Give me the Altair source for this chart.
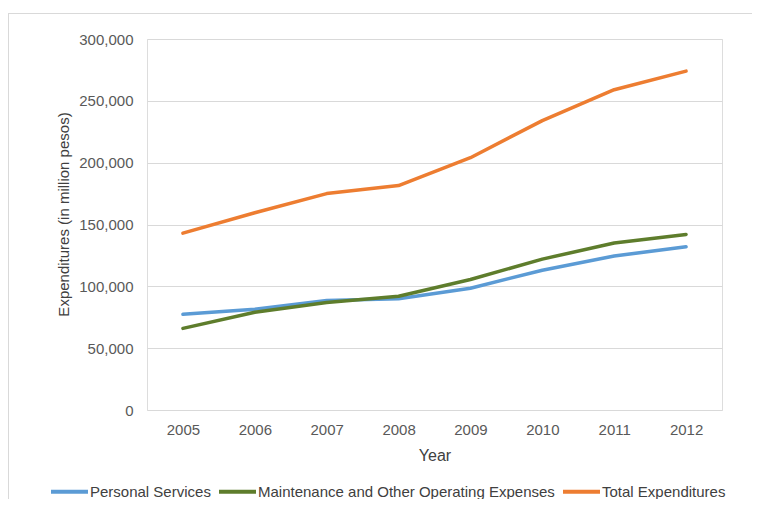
import altair as alt
import pandas as pd

years = ["2005", "2006", "2007", "2008", "2009", "2010", "2011", "2012"]
series_names = ["Personal Services", "Maintenance and Other Operating Expenses", "Total Expenditures"]
personal = [77400, 81500, 88500, 90000, 98500, 113000, 124500, 132000]
maintenance = [66000, 79000, 87000, 92000, 105500, 122000, 135000, 142000]
total = [143000, 159500, 175000, 181500, 204000, 234000, 259000, 274000]
colors = ["#5B9BD5", "#5E7D2C", "#ED7D31"]

rows = []
for name, vals in zip(series_names, [personal, maintenance, total]):
    for y, v in zip(years, vals):
        rows.append({"Year": y, "Series": name, "Value": v})
df = pd.DataFrame(rows)

W, H = 575, 371

lines = alt.Chart(df).mark_line(strokeWidth=3.5, strokeCap="round", strokeJoin="round").encode(
    x=alt.X("Year:O", sort=years,
            scale=alt.Scale(type="point", padding=0.5),
            axis=alt.Axis(title="Year", labelAngle=0, ticks=False, domain=False,
                          labelPadding=12, titlePadding=10,
                          labelFontSize=15, titleFontSize=16, labelColor="#595959",
                          titleColor="#404040", titleFontWeight="normal",
                          labelFont="Liberation Sans", titleFont="Liberation Sans")),
    y=alt.Y("Value:Q",
            scale=alt.Scale(domain=[0, 300000], nice=False),
            axis=alt.Axis(title="Expenditures (in million pesos)", values=[0, 50000, 100000, 150000, 200000, 250000, 300000],
                          format=",.0f", ticks=False, domain=False, labelPadding=14,
                          labelFontSize=15, titleFontSize=15, labelColor="#595959",
                          titleColor="#404040", titleFontWeight="normal",
                          gridColor="#D9D9D9", gridWidth=1,
                          titleX=-84, titleY=175, titleAngle=270, titleBaseline="middle",
                          labelFont="Liberation Sans", titleFont="Liberation Sans")),
    color=alt.Color("Series:N", sort=series_names,
                    scale=alt.Scale(domain=series_names, range=colors),
                    legend=alt.Legend(title=None, orient="none", direction="horizontal",
                                      legendX=-98, legendY=432,
                                      symbolType="stroke", symbolSize=1369, symbolStrokeWidth=4,
                                      labelOffset=0, columnPadding=0,
                                      labelFontSize=15, labelColor="#404040",
                                      labelFont="Liberation Sans", labelLimit=400)),
)

frame = alt.Data(values=[{"k": 1}])
left_border = alt.Chart(frame).mark_rule(color="#D9D9D9", strokeWidth=1).encode(
    x=alt.value(-138.5), y=alt.value(-25.5), y2=alt.value(470))
top_border = alt.Chart(frame).mark_rule(color="#D9D9D9", strokeWidth=1).encode(
    x=alt.value(-139), x2=alt.value(620), y=alt.value(-25.5))

chart = alt.layer(left_border, top_border, lines).properties(
    width=W, height=H,
    autosize=alt.AutoSizeParams(type="none"),
    padding={"left": 139, "top": 31, "right": 30, "bottom": 89},
).configure_view(stroke=None).configure(background="white")

chart.save("out.html", embed_options={"renderer": "svg", "actions": False})
